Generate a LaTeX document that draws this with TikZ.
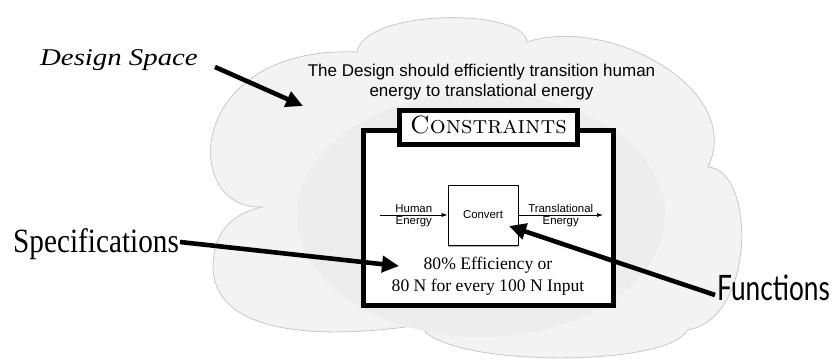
\documentclass[tikz,border=0pt]{standalone}
\usepackage{fontspec}
\newfontfamily\helv{Liberation Sans}
\newfontfamily\tms{Liberation Serif}
\newfontfamily\gill{Lato}
\usetikzlibrary{arrows.meta,shadows}
\definecolor{cloudfill}{RGB}{243,243,243}
\definecolor{innerfill}{RGB}{237,237,237}
\definecolor{cloudline}{RGB}{200,200,200}
\tikzset{
  bigarrow/.style={line width=4.6pt,-{Triangle[length=17pt,width=16pt]}},
  flow/.style={line width=0.7pt,-{Latex[length=6pt,width=4pt]}},
  lbl/.style={font=\helv\fontsize{11.4}{12}\selectfont,inner sep=1.6pt},
  boxshadow/.style={drop shadow={shadow xshift=0pt,shadow yshift=-2pt,fill=black,opacity=0.3}},
}
\begin{document}
\begin{tikzpicture}[x=1pt,y=-1pt]
\useasboundingbox (0,0) rectangle (834,362);
% cloud
\path[draw=cloudline,fill=cloudfill,line width=0.8pt]
  (262,207) .. controls (180,210) and (185,45) .. (357,52)
  .. controls (365,8) and (525,8) .. (527,42)
  .. controls (610,15) and (745,90) .. (708,167)
  .. controls (756,170) and (756,320) .. (687,330)
  .. controls (670,368) and (440,368) .. (420,325)
  .. controls (320,340) and (212,335) .. (213,265)
  .. controls (214,225) and (240,212) .. cycle;
\fill[innerfill] (481,215) ellipse [x radius=184pt, y radius=122pt];
% top text
\node[anchor=north,inner sep=0pt,align=center,font=\helv\fontsize{17}{20.5}\selectfont] (goal) at (481.5,63.5)
  {The Design should efficiently transition human\\energy to translational energy};
% constraints box
\node[draw,line width=5pt,fill=white,boxshadow,minimum width=250pt,minimum height=175pt,inner sep=0pt] (outer) at (488.5,217.5) {};
\node[draw,line width=5pt,fill=white,boxshadow,minimum width=178pt,minimum height=34pt,inner sep=0pt,text depth=6pt,font=\fontsize{25}{28}\selectfont] (cons) at (488.5,127.5) {\textsc{Constraints}};
% convert
\node[draw,line width=0.8pt,fill=white,boxshadow,minimum width=70pt,minimum height=60pt,inner sep=0pt,font=\helv\fontsize{11.4}{13}\selectfont] (conv) at (483,215) {Convert};
\coordinate (hstart) at (380,215);
\coordinate (tend) at (603,215);
\draw[flow] (hstart) -- node[above,lbl]{Human} node[below,lbl]{Energy} (conv.west);
\draw[flow] (conv.east) -- node[above,lbl]{Translational} node[below,lbl]{Energy} (tend);
% spec text
\node[anchor=north,inner sep=0pt,align=center,font=\tms\fontsize{17.6}{22}\selectfont] (spectext) at (488,257)
  {80\% Efficiency or\\80 N for every 100 N Input};
% labels
\node[anchor=base west,inner sep=0pt,font=\tms\itshape\fontsize{24}{26}\selectfont] (ds) at (40,65) {\scalebox{1.2}[1]{Design Space}};
\node[anchor=base west,inner sep=0pt,font=\tms\fontsize{34}{36}\selectfont] (spec) at (13,252) {\scalebox{0.86}[1]{Specifications}};
\node[anchor=base west,inner sep=0pt,font=\gill\fontsize{35}{38}\selectfont] (fun) at (717,300) {\scalebox{0.75}[1]{Functions}};
% big arrows
\coordinate (dsA) at (215,67);
\coordinate (dsB) at (303,106);
\draw[bigarrow] (dsA) -- (dsB);
\coordinate (spA) at (180,242);
\coordinate (spB) at (399,266);
\draw[bigarrow] (spA) -- (spB);
\coordinate (fnA) at (715,295);
\coordinate (fnB) at (509,226);
\draw[bigarrow] (fnA) -- (fnB);
\end{tikzpicture}
\end{document}
